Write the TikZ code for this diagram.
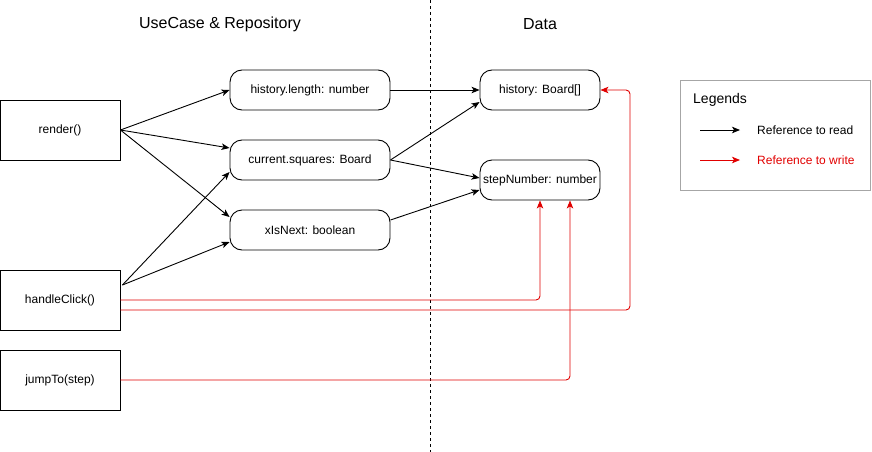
\documentclass[tikz,border=0pt]{standalone}
\usepackage{fontspec}
\setmainfont{Liberation Sans}
\usetikzlibrary{arrows.meta,calc}
\definecolor{wred}{RGB}{225,0,0}
\begin{document}
\begin{tikzpicture}[x=1pt,y=-1pt,
  fnbox/.style={draw, line width=0.9pt, minimum width=120pt, minimum height=60pt, inner sep=0pt, font=\fontsize{12}{14}\selectfont},
  databox/.style={draw, line width=0.9pt, rounded corners=12pt, minimum height=40pt, inner sep=0pt, font=\fontsize{12}{14}\selectfont},
  title/.style={font=\fontsize{16}{19}\selectfont},
  rd/.style={line width=0.9pt, -{Stealth[length=8pt,width=6.5pt,inset=2pt]}},
  wr/.style={rd, draw=wred, fill=none, rounded corners=4pt},
  legtext/.style={anchor=west, inner sep=0pt, font=\fontsize{12}{14}\selectfont}
]
\useasboundingbox (0,0) rectangle (872,452);

% titles
\node[title] (t1) at (220,24) {UseCase \& Repository};
\node[title] (t2) at (540,24) {Data};

% divider
\coordinate (dtop) at (430,0);
\coordinate (dbot) at (430,452);
\draw[line width=0.9pt, dash pattern=on 3pt off 3pt] (dtop) -- (dbot);

% functions
\node[fnbox] (render) at (60,130) {render()};
\node[fnbox] (hc) at (60,300) {handleClick()};
\node[fnbox] (jt) at (60,380) {jumpTo(step)};

% use case values
\node[databox, minimum width=160pt] (hl) at (310,90) {history.length: number};
\node[databox, minimum width=160pt] (cs) at (310,160) {current.squares: Board};
\node[databox, minimum width=160pt] (xn) at (310,230) {xIsNext: boolean};

% data
\node[databox, minimum width=120pt] (hist) at (540,90) {history: Board[]};
\node[databox, minimum width=120pt] (sn) at (540,180) {stepNumber: number};

% read references
\draw[rd] (render.east) -- (hl.west);
\draw[rd] (render.east) -- ($(cs.west)+(0,12pt)$);
\draw[rd] (render.east) -- ($(xn.west)+(0,13pt)$);
\coordinate (hcout) at ($(hc.east)+(2pt,15pt)$);
\draw[rd] (hcout) -- ($(cs.west)+(0,-12pt)$);
\draw[rd] (hcout) -- ($(xn.west)+(0,-12pt)$);
\draw[rd] (hl.east) -- (hist.west);
\draw[rd] (cs.east) -- ($(hist.west)+(0,-12pt)$);
\draw[rd] (cs.east) -- ($(sn.west)+(0,2pt)$);
\draw[rd] ($(xn.east)+(0,10pt)$) -- ($(sn.west)+(0,-10pt)$);

% write references
\coordinate (hcc) at (630,90);
\draw[wr] (hc.east) -| (sn.south);
\draw[wr] ($(hc.east)+(0,-10pt)$) -| (hcc) -- (hist.east);
\draw[wr] (jt.east) -| ($(sn.south)+(30pt,0)$);

% legend
\node[draw=black!35, line width=0.9pt, minimum width=190pt, minimum height=110pt, inner sep=0pt] (leg) at (775,135) {};
\node[anchor=west, inner sep=0pt, font=\fontsize{14}{17}\selectfont] (legt) at (693,100) {Legends};
\coordinate (la1) at (700,130);
\coordinate (lb1) at (740,130);
\coordinate (la2) at (700,160);
\coordinate (lb2) at (740,160);
\draw[rd] (la1) -- (lb1);
\draw[wr] (la2) -- (lb2);
\node[legtext] (lr) at (757,130) {Reference to read};
\node[legtext, text=wred] (lw) at (757,160) {Reference to write};
\end{tikzpicture}
\end{document}
